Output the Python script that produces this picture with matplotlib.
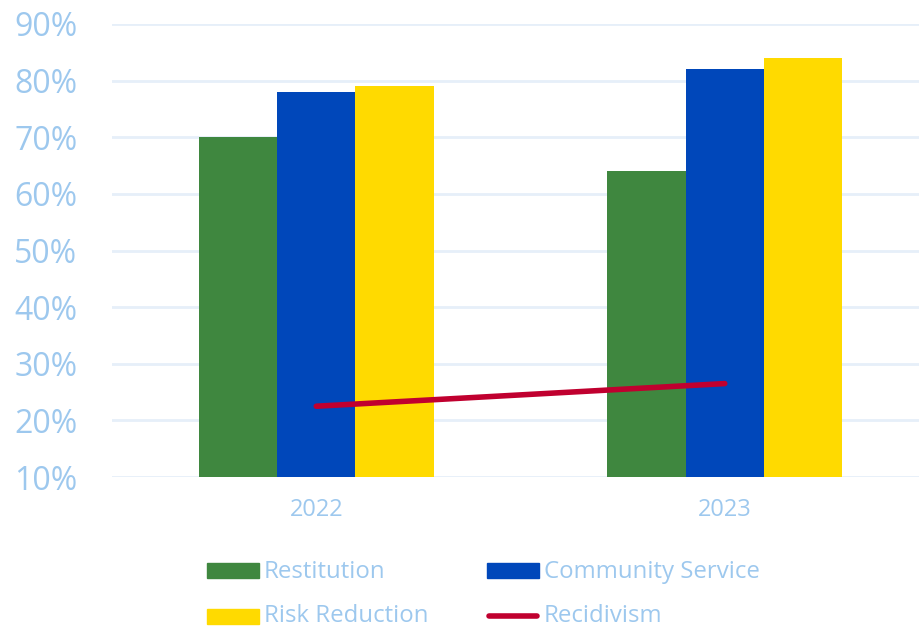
import matplotlib
matplotlib.use("Agg")
import matplotlib.pyplot as plt
from matplotlib.patches import Rectangle
from matplotlib.lines import Line2D
import numpy as np

plt.rcParams['font.family'] = ['Open Sans', 'DejaVu Sans']

years = ["2022", "2023"]
restitution = [70, 64]
community_service = [78, 82]
risk_reduction = [79, 84]
recidivism = [22.5, 26.5]
y_ticks = [10, 20, 30, 40, 50, 60, 70, 80, 90]

c_green = "#3F873F"
c_blue = "#0047BA"
c_yellow = "#FFDA00"
c_red = "#C0002F"
c_text = "#9DC8EE"
c_grid = "#E6EFF9"

W, H = 919, 627
fig = plt.figure(figsize=(W / 100, H / 100), dpi=100)
left, right = 112, 929
top, bottom = 24, 477
ax = fig.add_axes([left / W, 1 - bottom / H, (right - left) / W, (bottom - top) / H])

x = np.arange(len(years))
bw = 0.192
ax.bar(x - bw, restitution, bw, color=c_green, zorder=2)
ax.bar(x, community_service, bw, color=c_blue, zorder=2)
ax.bar(x + bw, risk_reduction, bw, color=c_yellow, zorder=2)
ax.plot(x, recidivism, color=c_red, lw=4, solid_capstyle='round', zorder=3)

ax.set_xlim(-0.5, 1.5)
ax.set_ylim(10, 90)
ax.set_yticks(y_ticks)
ax.set_yticklabels([f"{v}%" for v in y_ticks])
ax.set_xticks(x)
ax.set_xticklabels(years)
for s in ax.spines.values():
    s.set_visible(False)
ax.grid(axis='y', color=c_grid, lw=2, zorder=0)
ax.set_axisbelow(True)
ax.tick_params(axis='y', length=0, pad=25, labelsize=23, labelcolor=c_text)
ax.tick_params(axis='x', length=0, pad=15, labelsize=17, labelcolor=c_text)

# legend
def fx(px):
    return px / W

def fy(py):
    return 1 - py / H

entries = [
    ("patch", c_green, "Restitution", 207, 570, 1.5),
    ("patch", c_blue, "Community Service", 487, 570, 1.5),
    ("patch", c_yellow, "Risk Reduction", 207, 616, 0.0),
    ("line", c_red, "Recidivism", 487, 616, 0.0),
]
for kind, col, label, px, py, dy in entries:
    if kind == "patch":
        fig.patches.append(Rectangle((fx(px), fy(py + 7.5)), 52 / W, 15 / H,
                                     transform=fig.transFigure, color=col))
    else:
        fig.lines.append(Line2D([fx(px + 2), fx(px + 50)], [fy(py), fy(py)],
                                transform=fig.transFigure, color=col, lw=4,
                                solid_capstyle='round'))
    fig.text(fx(px + 57), fy(py + dy), label, fontsize=17.25, color=c_text,
             ha='left', va='center')

fig.savefig("out.png", dpi=100)
